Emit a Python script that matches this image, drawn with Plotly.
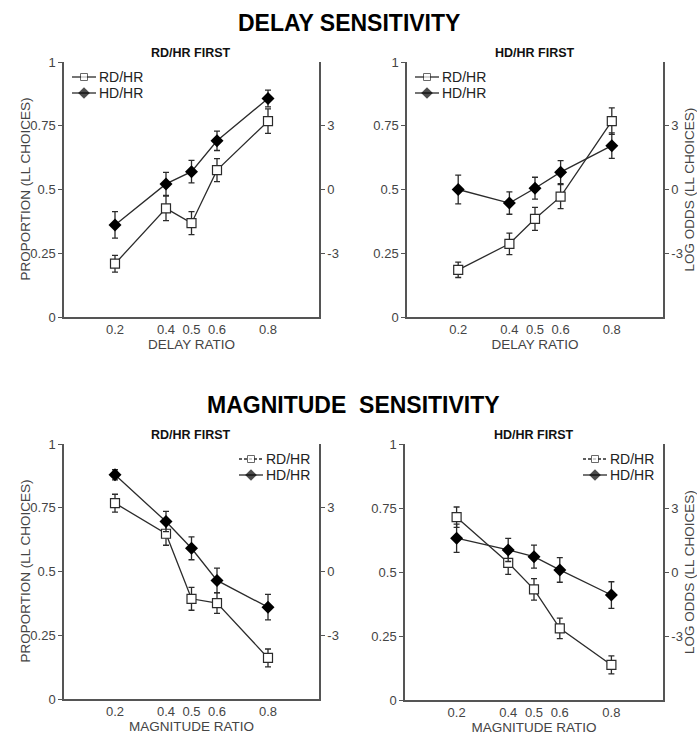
import plotly.graph_objects as go

ratios = [0.2, 0.4, 0.5, 0.6, 0.8]
x_ticks = [0.2, 0.4, 0.5, 0.6, 0.8]
x_ticktext = ["0.2", "0.4", "0.5", "0.6", "0.8"]
y_ticks = [0, 0.25, 0.5, 0.75, 1]
y_ticktext = ["0", "0.25", "0.5", "0.75", "1"]
lo_ticks = [-3, 0, 3]
lo_ticktext = ["-3", "0", "3"]

# Delay sensitivity, RD/HR first
d1_rd = [0.209, 0.426, 0.368, 0.576, 0.768]
d1_rd_err = [0.033, 0.048, 0.045, 0.045, 0.048]
d1_hd = [0.361, 0.522, 0.570, 0.691, 0.857]
d1_hd_err = [0.052, 0.045, 0.044, 0.038, 0.033]
# Delay sensitivity, HD/HR first
d2_rd = [0.185, 0.287, 0.385, 0.472, 0.768]
d2_rd_err = [0.030, 0.042, 0.045, 0.047, 0.052]
d2_hd = [0.500, 0.447, 0.505, 0.568, 0.672]
d2_hd_err = [0.056, 0.044, 0.043, 0.045, 0.050]
# Magnitude sensitivity, RD/HR first
m1_rd = [0.768, 0.648, 0.393, 0.376, 0.161]
m1_rd_err = [0.035, 0.045, 0.045, 0.040, 0.035]
m1_hd = [0.879, 0.696, 0.591, 0.465, 0.360]
m1_hd_err = [0.020, 0.040, 0.045, 0.048, 0.050]
# Magnitude sensitivity, HD/HR first
m2_rd = [0.714, 0.536, 0.432, 0.280, 0.137]
m2_rd_err = [0.040, 0.045, 0.042, 0.040, 0.035]
m2_hd = [0.632, 0.586, 0.560, 0.508, 0.410]
m2_hd_err = [0.055, 0.045, 0.045, 0.048, 0.052]

FONT = "Liberation Sans, Arial, sans-serif"
LINE = "#2b2b2b"
AXC = "#555555"
TXT = "#444444"

W, H = 697, 738
panels = [
    (d1_rd, d1_rd_err, d1_hd, d1_hd_err, 64, 319, 62, 317, "RD/HR FIRST", "DELAY RATIO",
     "PROPORTION (LL CHOICES)", None, "left", "solid"),
    (d2_rd, d2_rd_err, d2_hd, d2_hd_err, 407, 663, 62, 317, "HD/HR FIRST", "DELAY RATIO",
     None, "LOG ODDS (LL CHOICES)", "left", "solid"),
    (m1_rd, m1_rd_err, m1_hd, m1_hd_err, 64, 319, 444, 699, "RD/HR FIRST", "MAGNITUDE RATIO",
     "PROPORTION (LL CHOICES)", None, "right", "3px,2px"),
    (m2_rd, m2_rd_err, m2_hd, m2_hd_err, 405, 663, 444, 700, "HD/HR FIRST", "MAGNITUDE RATIO",
     None, "LOG ODDS (LL CHOICES)", "right", "3px,2px"),
]

fig = go.Figure()
layout = dict(
    width=W, height=H, margin=dict(l=0, r=0, t=0, b=0, autoexpand=False),
    paper_bgcolor="white", plot_bgcolor="white", showlegend=False,
    font=dict(family=FONT, color=TXT, size=13),
)
annotations = []

for i, (rd, rde, hd, hde, x0, x1, yt, yb, title, xtitle, ltitle, rtitle, lpos, ldash) in enumerate(panels):
    n = i + 1
    xa = "x" if n == 1 else f"x{n}"
    ya = "y" if n == 1 else f"y{n}"
    ya_r = f"y{n + 4}"
    xdom = [x0 / W, x1 / W]
    ydom = [1 - yb / H, 1 - yt / H]

    fig.add_trace(go.Scatter(
        x=ratios, y=rd, xaxis=xa, yaxis=ya, mode="lines+markers", name="RD/HR",
        line=dict(color=LINE, width=1.3),
        marker=dict(symbol="square", size=9, color="white", line=dict(color=LINE, width=1.2)),
        error_y=dict(type="data", array=rde, color=LINE, thickness=1.3, width=3),
    ))
    fig.add_trace(go.Scatter(
        x=ratios, y=hd, xaxis=xa, yaxis=ya, mode="lines+markers", name="HD/HR",
        line=dict(color=LINE, width=1.3),
        marker=dict(symbol="diamond", size=10, color="black", line=dict(color="black", width=0)),
        error_y=dict(type="data", array=hde, color=LINE, thickness=1.3, width=3),
    ))
    fig.add_trace(go.Scatter(x=[None], y=[None], xaxis=xa, yaxis=ya_r, mode="markers",
                             showlegend=False, hoverinfo="skip"))

    xkey = "xaxis" if n == 1 else f"xaxis{n}"
    ykey = "yaxis" if n == 1 else f"yaxis{n}"
    layout[xkey] = dict(
        domain=xdom, anchor=ya, range=[0, 1], tickvals=x_ticks, ticktext=x_ticktext,
        showgrid=False, zeroline=False, showline=True, linecolor=AXC, linewidth=1.5,
        ticks="", automargin=False, tickfont=dict(size=13, color=TXT, family=FONT),
        title=dict(text=xtitle, font=dict(size=13.5, color=TXT, family=FONT), standoff=0),
    )
    layout[ykey] = dict(
        domain=ydom, anchor=xa, range=[0, 1], tickvals=y_ticks, ticktext=y_ticktext,
        showgrid=False, zeroline=False, showline=True, linecolor=AXC, linewidth=1.5,
        ticks="outside", ticklen=4, tickcolor=AXC, tickwidth=1.2, automargin=False,
        tickfont=dict(size=13, color=TXT, family=FONT),
    )
    layout[f"yaxis{n + 4}"] = dict(
        overlaying=ya, side="right", anchor=xa, range=[-6, 6], tickvals=lo_ticks, ticktext=lo_ticktext,
        showgrid=False, zeroline=False, showline=True, linecolor=AXC, linewidth=1.5,
        ticks="outside", ticklen=4, tickcolor=AXC, tickwidth=1.2, automargin=False,
        tickfont=dict(size=13, color=TXT, family=FONT),
    )
    ymid = 1 - (yt + yb) / 2 / H
    if ltitle:
        annotations.append(dict(text=ltitle, x=25 / W, y=ymid, xref="paper", yref="paper",
                                xanchor="center", yanchor="middle", showarrow=False, textangle=-90,
                                font=dict(size=13.5, color=TXT, family=FONT)))
    if rtitle:
        annotations.append(dict(text=rtitle, x=689 / W, y=ymid, xref="paper", yref="paper",
                                xanchor="center", yanchor="middle", showarrow=False, textangle=-90,
                                font=dict(size=13.5, color=TXT, family=FONT)))
    annotations.append(dict(
        text=f"<b>{title}</b>", x=(x0 + x1) / 2 / W, y=1 - (yt - 9) / H, xref="paper", yref="paper",
        xanchor="center", yanchor="middle", showarrow=False,
        font=dict(size=12.5, color="#111111", family=FONT),
    ))
    if lpos == "left":
        lx0 = x0 + 8
    else:
        lx0 = x1 - 80
    for k, (nm, sym, fill, msz, dsh) in enumerate([("RD/HR", "square", "white", 7, ldash),
                                                   ("HD/HR", "diamond", "black", 9, "solid")]):
        ly = yt + 15 + k * 16
        fig.add_trace(go.Scatter(
            x=[(lx0 - x0) / (x1 - x0), (lx0 + 12 - x0) / (x1 - x0), (lx0 + 24 - x0) / (x1 - x0)],
            y=[1 - (ly - yt) / (yb - yt)] * 3,
            xaxis=xa, yaxis=ya, mode="lines+markers", showlegend=False, hoverinfo="skip",
            line=dict(color=LINE, width=1.3, dash=dsh),
            marker=dict(symbol=sym, size=[0, msz, 0], color=fill,
                        line=dict(color=LINE, width=1 if sym == "square" else 0)),
        ))
        annotations.append(dict(
            text=nm, x=(lx0 + 25) / W, y=1 - ly / H, xref="paper", yref="paper",
            xanchor="left", yanchor="middle", showarrow=False,
            font=dict(size=14, color="#222222", family=FONT),
        ))

annotations.append(dict(text="<b>DELAY SENSITIVITY</b>", x=349 / W, y=1 - 23 / H, xref="paper", yref="paper",
                        xanchor="center", yanchor="middle", showarrow=False,
                        font=dict(size=23, color="black", family=FONT)))
annotations.append(dict(text="<b>MAGNITUDE  SENSITIVITY</b>", x=353 / W, y=1 - 405 / H, xref="paper", yref="paper",
                        xanchor="center", yanchor="middle", showarrow=False,
                        font=dict(size=23, color="black", family=FONT)))

layout["annotations"] = annotations
fig.update_layout(**layout)
fig.write_html("out.html", config={"displayModeBar": False},
               post_script="document.body.style.margin='0px';document.body.style.overflow='hidden';")
